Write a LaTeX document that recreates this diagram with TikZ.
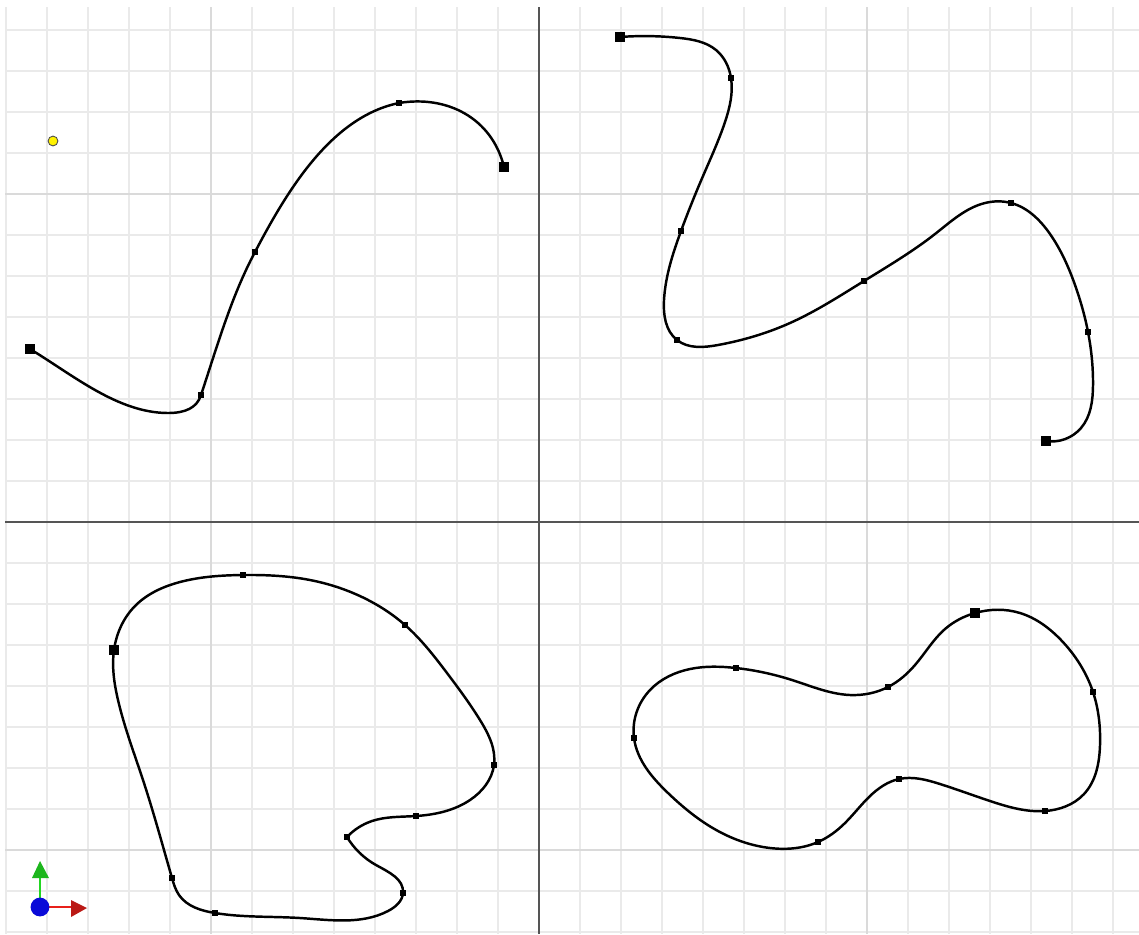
\documentclass[tikz,border=0pt]{standalone}
\usetikzlibrary{arrows.meta,hobby}
\definecolor{gridminor}{HTML}{EAEAEA}
\definecolor{gridmajor}{HTML}{DADADA}
\definecolor{axisgray}{HTML}{555555}
\definecolor{axred}{HTML}{E8201A}
\definecolor{axgreen}{HTML}{22D622}
\definecolor{axblue}{HTML}{0A0AD8}
\begin{document}
\begin{tikzpicture}[x=0.3457pt,y=-0.3457pt,
  minorline/.style={gridminor, line width=0.7pt},
  majorline/.style={gridmajor, line width=0.7pt},
  curveplain/.style={black, line width=0.85pt, line join=round},
  curve/.style={curveplain, use Hobby shortcut},
  bigmark/.style={rectangle, fill=black, inner sep=0pt, minimum size=3.2pt},
  smallmark/.style={rectangle, fill=black, inner sep=0pt, minimum size=2pt}]
\fill[white] (0,0) rectangle (1139,934);
\useasboundingbox (0,0) rectangle (1139,934);
% grid
\begin{scope}
\clip (5,7) rectangle (1139,934);
\foreach \k in {-13,...,14} \draw[minorline] ({539+41*\k},0) -- ({539+41*\k},934);
\foreach \k in {-12,...,10} \draw[minorline] (0,{522+41*\k}) -- (1139,{522+41*\k});
\foreach \xx in {211,867} \draw[majorline] (\xx,0) -- (\xx,934);
\foreach \yy in {194,850} \draw[majorline] (0,\yy) -- (1139,\yy);
\end{scope}
\draw[axisgray, line width=0.7pt] (539,7) -- (539,934);
\draw[axisgray, line width=1pt] (5,522) -- (1139,522);
% curve 1
\node[bigmark] (a1) at (30,349) {};
\node[smallmark] (a2) at (201,395) {};
\node[smallmark] (a3) at (255,252) {};
\node[smallmark] (a4) at (399,103) {};
\node[bigmark] (a5) at (504,167) {};
\coordinate (amin) at (168,413);
\draw[curveplain] (a1.center) .. controls (73,375) and (118,413) .. (amin)
  .. controls (185,413) and (197,408) .. (a2.center)
  .. controls (217,347) and (231,297) .. (a3.center)
  .. controls (287,191) and (331,117) .. (a4.center)
  .. controls (447,95) and (492,118) .. (a5.center);
\node[circle, draw=black!70, line width=0.3pt, fill=yellow, inner sep=0pt, minimum size=3.4pt] (yel) at (53,141) {};
% curve 2
\draw[curve] (620,37) .. (680,38) .. (716,50) .. (731,78) .. (725,122) .. (703,176) .. (681,231) .. (664,300) .. (677,340) .. (718,345) .. (790,323) .. (864,281) .. (935,234) .. (985,203) .. (1011,203) .. (1050,234) .. (1075,285) .. (1088,332) .. (1093,385) .. (1081,428) .. (1046,441);
\node[bigmark] (b1) at (620,37) {};
\node[smallmark] (b2) at (731,78) {};
\node[smallmark] (b3) at (681,231) {};
\node[smallmark] (b4) at (677,340) {};
\node[smallmark] (b5) at (864,281) {};
\node[smallmark] (b6) at (1011,203) {};
\node[smallmark] (b7) at (1088,332) {};
\node[bigmark] (b8) at (1046,441) {};
% curve 3 (drawn from its tip so that the tip stays sharp)
\draw[curve] (347,837) .. (376,865) .. (403,893) .. (388,911) .. (300,918) .. (215,913) .. (179,895) .. (172,878) .. (143,780) .. (118,700) .. (114,650) .. (135,606) .. (180,582) .. (243,575) .. (310,580) .. (362,597) .. (405,625) .. (447,673) .. (480,720) .. (494,765) .. (470,800) .. (416,816) .. (372,821) .. (347,837);
\node[bigmark] (c1) at (114,650) {};
\node[smallmark] (c2) at (243,575) {};
\node[smallmark] (c3) at (405,625) {};
\node[smallmark] (c4) at (494,765) {};
\node[smallmark] (c5) at (416,816) {};
\node[smallmark] (c6) at (347,837) {};
\node[smallmark] (c7) at (403,893) {};
\node[smallmark] (c8) at (215,913) {};
\node[smallmark] (c9) at (172,878) {};
% curve 4
\draw[curve, closed=true] (975,613) .. (1020,613) .. (1061,640) .. (1093,692) .. (1100,745) .. (1084,794) .. (1045,811) .. (990,801) .. (940,784) .. (899,779) .. (870,796) .. (845,823) .. (818,842) .. (770,848) .. (718,831) .. (668,793) .. (634,738) .. (650,690) .. (690,669) .. (736,668) .. (792,680) .. (850,695) .. (888,687) .. (915,665) .. (945,629);
\node[bigmark] (d1) at (975,613) {};
\node[smallmark] (d2) at (1093,692) {};
\node[smallmark] (d3) at (1045,811) {};
\node[smallmark] (d4) at (899,779) {};
\node[smallmark] (d5) at (818,842) {};
\node[smallmark] (d6) at (634,738) {};
\node[smallmark] (d7) at (736,668) {};
\node[smallmark] (d8) at (888,687) {};
% axis indicator
\draw[axgreen, line width=0.55pt] (40,907) -- (40,877);
\fill[axgreen!85!black] (40,861) -- (32,878) -- (49,878) -- cycle;
\draw[axred, line width=0.55pt] (40,907) -- (72,907);
\fill[axred!80!black] (87,908) -- (71,900) -- (71,917) -- cycle;
\node[circle, fill=axblue, inner sep=0pt, minimum size=6.5pt] (orig) at (40,907) {};
\end{tikzpicture}
\end{document}
